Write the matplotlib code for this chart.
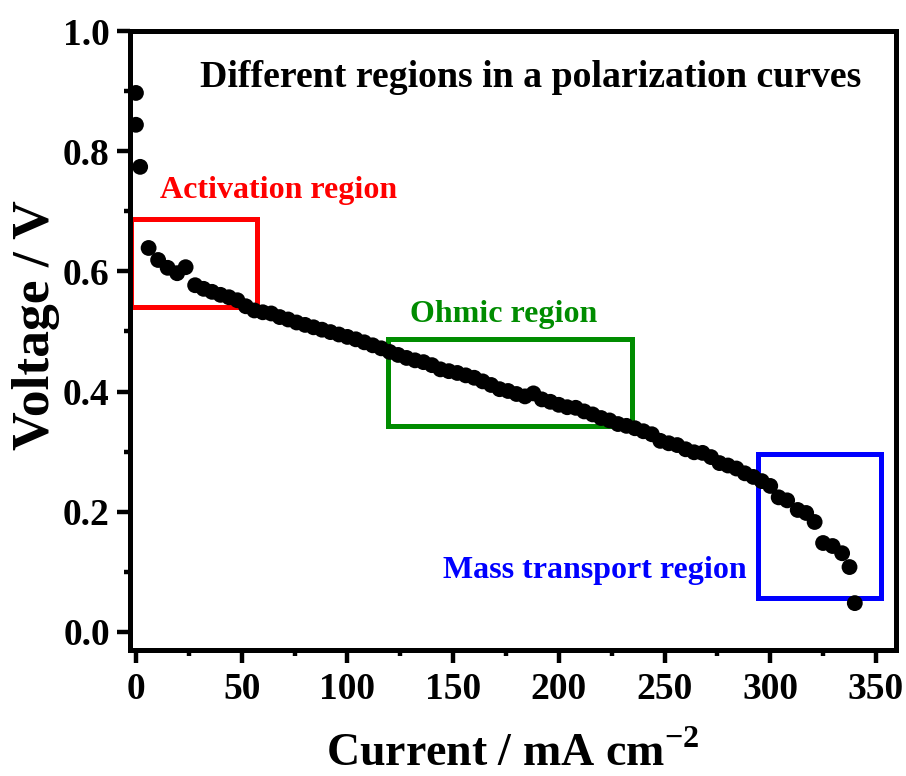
import matplotlib
matplotlib.use('Agg')
import matplotlib.pyplot as plt
from matplotlib.patches import Rectangle
from matplotlib.ticker import MultipleLocator

plt.rcParams['font.family'] = ['Liberation Serif', 'DejaVu Serif']
plt.rcParams['font.weight'] = 'bold'
plt.rcParams['mathtext.fontset'] = 'custom'
plt.rcParams['mathtext.rm'] = 'Liberation Serif:bold'
plt.rcParams['mathtext.bf'] = 'Liberation Serif:bold'

# polarization data
current = [0, 0, 2, 6, 10.5, 15, 19.5, 23.5, 28, 32, 36, 40, 44, 48, 52, 56,
           60, 64, 68, 72, 76, 80, 84, 88, 92, 96, 100, 104, 108, 112, 116,
           120, 124, 128, 132, 136, 140, 144, 148, 152, 156, 160, 164, 168,
           172, 176, 180, 184, 188, 192, 196, 200, 204, 208, 212, 216, 220,
           224, 228, 232, 236, 240, 244, 248, 252, 256, 260, 264, 268, 272,
           276, 280, 284, 288, 292, 296, 300, 304, 308, 313, 317, 321, 325,
           329.5, 334, 337.5, 340]
voltage = [0.897, 0.844, 0.774, 0.639, 0.619, 0.606, 0.597, 0.607, 0.577,
           0.571, 0.566, 0.561, 0.557, 0.552, 0.542, 0.535, 0.532, 0.530,
           0.524, 0.520, 0.515, 0.511, 0.507, 0.503, 0.499, 0.495, 0.491,
           0.487, 0.482, 0.477, 0.472, 0.466, 0.461, 0.456, 0.452, 0.449,
           0.444, 0.437, 0.434, 0.431, 0.427, 0.423, 0.417, 0.411, 0.404,
           0.401, 0.396, 0.392, 0.397, 0.387, 0.383, 0.378, 0.374, 0.373,
           0.367, 0.362, 0.356, 0.352, 0.346, 0.343, 0.339, 0.334, 0.329,
           0.318, 0.314, 0.311, 0.304, 0.299, 0.298, 0.291, 0.281, 0.277,
           0.272, 0.264, 0.258, 0.251, 0.243, 0.224, 0.219, 0.203, 0.198,
           0.183, 0.148, 0.143, 0.131, 0.108, 0.048]

# region boxes: (x0, x1), (y0, y1)
region_names = ['Activation region', 'Ohmic region', 'Mass transport region']
region_colors = ['#ff0000', '#008c00', '#0000ff']
region_x = [(-2.4, 57.2), (119.2, 234.6), (294.2, 352.4)]
region_y = [(0.541, 0.687), (0.343, 0.4875), (0.0566, 0.296)]

fig = plt.figure(figsize=(9.06, 7.76), dpi=100)
ax = fig.add_axes([0.1435, 0.1624, 0.8455, 0.7976])

ax.scatter(current, voltage, s=130, c='black', zorder=3, edgecolors='none')

for (x0, x1), (y0, y1), col in zip(region_x, region_y, region_colors):
    ax.add_patch(Rectangle((x0, y0), x1 - x0, y1 - y0, fill=False,
                           edgecolor=col, linewidth=3.6, zorder=2))

ax.text(11.4, 0.734, region_names[0], color=region_colors[0], fontsize=23,
        fontweight='bold', va='center', ha='left')
ax.text(129.6, 0.529, region_names[1], color=region_colors[1], fontsize=23,
        fontweight='bold', va='center', ha='left')
ax.text(145.2, 0.103, region_names[2], color=region_colors[2], fontsize=23,
        fontweight='bold', va='center', ha='left')
ax.text(30.3, 0.923, 'Different regions in a polarization curves',
        color='black', fontsize=27.2, fontweight='bold', va='center', ha='left')

ax.set_xlim(-2.8, 359.5)
ax.set_ylim(-0.03, 1.0)
ax.xaxis.set_major_locator(MultipleLocator(50))
ax.xaxis.set_minor_locator(MultipleLocator(25))
ax.yaxis.set_major_locator(MultipleLocator(0.2))
ax.yaxis.set_minor_locator(MultipleLocator(0.1))
ax.yaxis.set_major_formatter(plt.FormatStrFormatter('%.1f'))

for sp in ax.spines.values():
    sp.set_linewidth(3.6)
ax.tick_params(which='major', length=9.5, width=3.2, labelsize=27, pad=5)
ax.tick_params(which='minor', length=4.5, width=3.2)
ax.tick_params(axis='x', which='major', pad=6)
for lab in ax.get_xticklabels() + ax.get_yticklabels():
    lab.set_fontweight('bold')

ax.set_xlabel(r'Current / mA cm$^{\mathrm{-2}}$', fontsize=33, fontweight='bold',
              labelpad=19)
ax.set_ylabel('Voltage / V', fontsize=38.5, fontweight='bold')
ax.yaxis.set_label_coords(-0.091, 0.525)

fig.savefig('out.png', dpi=100)
